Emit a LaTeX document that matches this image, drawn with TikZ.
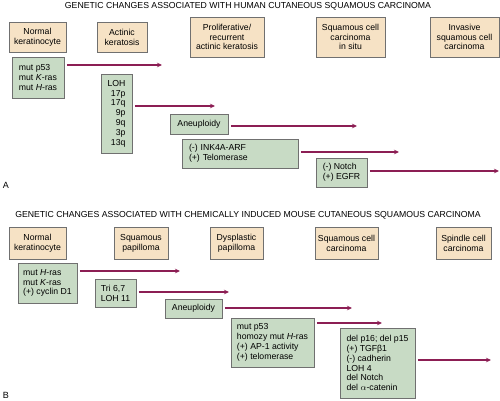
\documentclass[tikz,border=0pt]{standalone}
\usepackage{fontspec}
\setmainfont{Liberation Sans}
\usepackage{xcolor}
\usetikzlibrary{arrows.meta}
\definecolor{stagetan}{HTML}{F6E2C5}
\definecolor{changegreen}{HTML}{C8DBC5}
\definecolor{boxedge}{HTML}{707070}
\definecolor{plum}{HTML}{8C1E54}
\newcommand{\boxfont}{\fontsize{8.7}{9.8}\selectfont}
\tikzstyle{stage} = [rectangle, draw=boxedge, fill=stagetan, align=center,
                     inner sep=1pt, line width=0.8pt, font=\boxfont]
\tikzstyle{change} = [rectangle, draw=boxedge, fill=changegreen, align=left,
                      inner sep=1pt, line width=0.8pt, font=\boxfont]
\tikzstyle{heading} = [font=\boxfont, inner sep=0pt]
\tikzstyle{arrow} = [-{Stealth[length=5pt, width=4.5pt]}, line width=1.1pt,
                     draw=plum, shorten <=2.5pt]

\begin{document}
\begin{tikzpicture}[x=1pt, y=-1pt]
    \useasboundingbox (0,0) rectangle (500,401);

    % panel A
    \node[heading] (titleA) at (248,6) {GENETIC CHANGES ASSOCIATED WITH HUMAN CUTANEOUS SQUAMOUS CARCINOMA};
    \node[stage, minimum width=57pt, minimum height=30pt] (normA) at (37.5,37) {Normal\\keratinocyte};
    \node[stage, minimum width=50pt, minimum height=30pt] (actinic) at (122,37) {Actinic\\keratosis};
    \node[stage, minimum width=74pt, minimum height=40pt] (prolif) at (227,37) {Proliferative/\\recurrent\\actinic keratosis};
    \node[stage, minimum width=69pt, minimum height=40pt] (insitu) at (350.5,37) {Squamous cell\\carcinoma\\in situ};
    \node[stage, minimum width=69pt, minimum height=40pt] (invasive) at (464.5,37) {Invasive\\squamous cell\\carcinoma};

    \node[change, minimum width=52pt, minimum height=41pt] (mutA) at (38,77.5) {mut p53\\mut \textit{K}-ras\\mut \textit{H}-ras};
    \node[change, align=right, minimum width=31pt, minimum height=79pt] (loh) at (116.5,113.5) {LOH\\17p\\17q\\9p\\9q\\3p\\13q};
    \node[change, minimum width=58pt, minimum height=20pt] (aneuA) at (199,124) {Aneuploidy};
    \node[change, inner xsep=7pt, text width=102pt, minimum height=29pt] (ink) at (240,153.5) {(-) INK4A-ARF\\(+) Telomerase};
    \node[change, minimum width=51pt, minimum height=29pt] (notch) at (341.5,172.5) {(-) Notch\\(+) EGFR};

    \coordinate (endA1) at (162,65);
    \coordinate (endA2) at (215,106);
    \coordinate (endA3) at (357,126);
    \coordinate (endA4) at (399,152);
    \coordinate (endA5) at (499,171);
    \draw[arrow] (mutA.east |- endA1) -- (endA1);
    \draw[arrow] (loh.east |- endA2) -- (endA2);
    \draw[arrow] (aneuA.east |- endA3) -- (endA3);
    \draw[arrow] (ink.east |- endA4) -- (endA4);
    \draw[arrow] (notch.east |- endA5) -- (endA5);

    \node[heading, font=\fontsize{9}{10}\selectfont] (labA) at (6,185) {A};

    % panel B
    \node[heading] (titleB) at (248,215) {GENETIC CHANGES ASSOCIATED WITH CHEMICALLY INDUCED MOUSE CUTANEOUS SQUAMOUS CARCINOMA};
    \node[stage, minimum width=57pt, minimum height=32pt] (normB) at (37.5,243) {Normal\\keratinocyte};
    \node[stage, minimum width=54pt, minimum height=32pt] (papilloma) at (141,243) {Squamous\\papilloma};
    \node[stage, minimum width=53pt, minimum height=32pt] (dysplastic) at (236.5,243) {Dysplastic\\papilloma};
    \node[stage, minimum width=63pt, minimum height=32pt] (sccB) at (346.5,243) {Squamous cell\\carcinoma};
    \node[stage, minimum width=55pt, minimum height=32pt] (spindle) at (463.5,243) {Spindle cell\\carcinoma};

    \node[change, minimum width=59pt, minimum height=40pt] (mutB) at (47.5,283) {mut \textit{H}-ras\\mut \textit{K}-ras\\(+) cyclin D1};
    \node[change, minimum width=41pt, minimum height=28pt] (tri) at (115.5,293) {Tri 6,7\\LOH 11};
    \node[change, minimum width=57pt, minimum height=19pt] (aneuB) at (193.5,308.5) {Aneuploidy};
    \node[change, minimum width=83pt, minimum height=49pt] (homozy) at (272.5,342.5) {mut p53\\homozy mut \textit{H}-ras\\(+) AP-1 activity\\(+) telomerase};
    \node[change, minimum width=75pt, minimum height=70pt] (delp) at (377.5,363) {del p16; del p15\\(+) TGFβ1\\(-) cadherin\\LOH 4\\del Notch\\del $\alpha$-catenin};

    \coordinate (endB1) at (180,271);
    \coordinate (endB2) at (229,292);
    \coordinate (endB3) at (352,308);
    \coordinate (endB4) at (382,323);
    \coordinate (endB5) at (491,360);
    \draw[arrow] (mutB.east |- endB1) -- (endB1);
    \draw[arrow] (tri.east |- endB2) -- (endB2);
    \draw[arrow] (aneuB.east |- endB3) -- (endB3);
    \draw[arrow] (homozy.east |- endB4) -- (endB4);
    \draw[arrow] (delp.east |- endB5) -- (endB5);

    \node[heading, font=\fontsize{9}{10}\selectfont] (labB) at (6,395) {B};
\end{tikzpicture}
\end{document}
